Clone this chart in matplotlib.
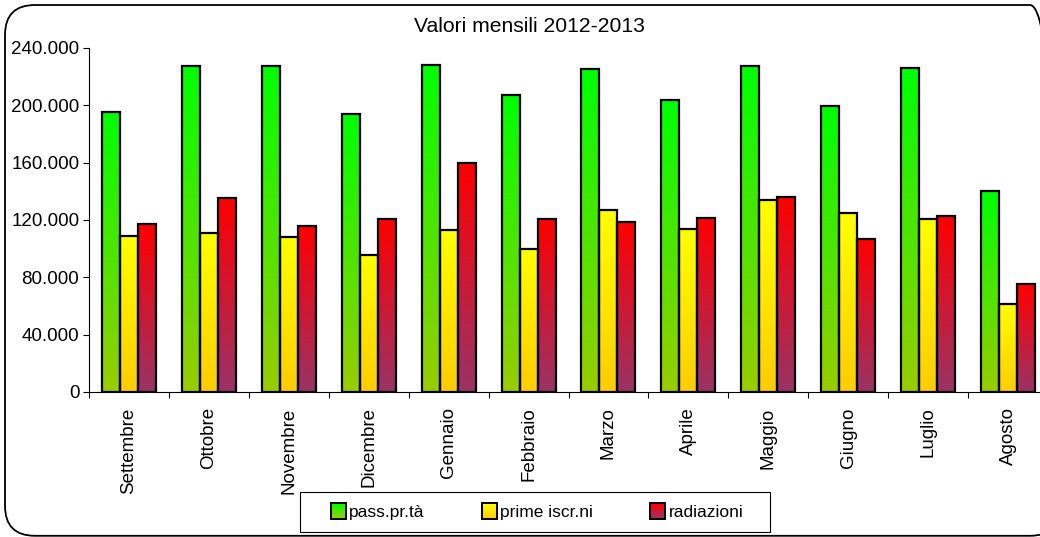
import numpy as np
import matplotlib
matplotlib.use("Agg")
import matplotlib.pyplot as plot
from matplotlib.patches import FancyBboxPatch, Rectangle
from matplotlib.ticker import FuncFormatter, FixedLocator
from matplotlib.legend_handler import HandlerBase

plot.rcParams['font.family'] = ['Liberation Sans', 'DejaVu Sans']

mesi = ['Settembre', 'Ottobre', 'Novembre', 'Dicembre', 'Gennaio', 'Febbraio',
        'Marzo', 'Aprile', 'Maggio', 'Giugno', 'Luglio', 'Agosto']
pass_prta = [195300, 227400, 227400, 194000, 228100, 207200,
             225300, 203700, 227400, 199500, 226000, 140200]
prime_iscr = [108800, 110900, 108100, 95600, 113000, 99800,
              127000, 113700, 134000, 124900, 120700, 61400]
radiazioni = [117200, 135300, 115800, 120700, 159800, 120700,
              118600, 121400, 136000, 106700, 122800, 75300]

serie = [
    ('pass.pr.tà', pass_prta, '#99CC00', '#00FF00'),
    ('prime iscr.ni', prime_iscr, '#FFCC00', '#FFFF00'),
    ('radiazioni', radiazioni, '#993366', '#FF0000'),
]


def gradiente(bas, haut, n=64):
    c0 = np.array(matplotlib.colors.to_rgb(bas))
    c1 = np.array(matplotlib.colors.to_rgb(haut))
    t = np.linspace(0, 1, n)[:, None]
    return (c0 + (c1 - c0) * t)[:, None, :]


class HandlerGradient(HandlerBase):
    def __init__(self, bas, haut):
        super().__init__()
        self.bas = bas
        self.haut = haut

    def create_artists(self, legend, orig_handle, xdescent, ydescent, width, height, fontsize, trans):
        n = 8
        g = gradiente(self.bas, self.haut, n)
        arts = []
        cote = height * 1.1
        y0 = -ydescent + (height - cote) / 2
        x0 = -xdescent
        for k in range(n):
            r = Rectangle((x0, y0 + k * cote / n), cote, cote / n + 0.01,
                          facecolor=g[k, 0], edgecolor='none', transform=trans)
            arts.append(r)
        arts.append(Rectangle((x0, y0), cote, cote, facecolor='none',
                              edgecolor='black', linewidth=1.4, transform=trans))
        return arts


fig = plot.figure(figsize=(10.4, 5.37), dpi=100)

# cadre arrondi (le bord droit sort de l'image)
cadre = FancyBboxPatch((0.05, 0.012), 10.55, 5.308, boxstyle="round,pad=0,rounding_size=0.3",
                       transform=fig.dpi_scale_trans, facecolor='none', edgecolor='black',
                       linewidth=1.3, zorder=-1)
fig.patches.append(cadre)

ax = fig.add_axes([89 / 1040, 1 - 392 / 537, (1048 - 89) / 1040, (392 - 48) / 537])
ax.set_facecolor('none')

x = np.arange(len(mesi))
largeur = 0.225
handles = []
handler_map = {}
for j, (nom, valeurs, bas, haut) in enumerate(serie):
    decal = (j - 1) * largeur
    img = gradiente(bas, haut)
    for xi, v in zip(x, valeurs):
        x0 = xi + decal - largeur / 2
        ax.imshow(img, extent=(x0, x0 + largeur, 0, v), aspect='auto', origin='lower',
                  interpolation='bilinear', zorder=2)
    barres = ax.bar(x + decal, valeurs, largeur, facecolor='none', edgecolor='black',
                    linewidth=1.6, zorder=3, label=nom)
    handles.append(barres)
    handler_map[barres] = HandlerGradient(bas, haut)

ax.set_xlim(-0.5, len(mesi) - 0.5)
ax.set_ylim(0, 240000)
ax.set_yticks(np.arange(0, 240001, 40000))
ax.yaxis.set_major_formatter(FuncFormatter(lambda v, p: f"{v:,.0f}".replace(",", ".")))
ax.tick_params(axis='y', direction='out', length=4, width=0.8, pad=3, labelsize=13.5)

ax.set_xticks(x)
ax.set_xticklabels(mesi, rotation=90, ha='center', va='top', fontsize=13.5)
ax.tick_params(axis='x', which='major', length=0, pad=11)
ax.xaxis.set_minor_locator(FixedLocator(np.arange(-0.5, len(mesi), 1.0)))
ax.tick_params(axis='x', which='minor', direction='out', length=4, width=0.8)

for cote in ['top', 'right']:
    ax.spines[cote].set_visible(False)
ax.spines['left'].set_linewidth(0.8)
ax.spines['bottom'].set_linewidth(0.8)

fig.text(529 / 1040, 1 - 27 / 537, 'Valori mensili 2012-2013', ha='center', va='center', fontsize=15.2)

leg = fig.legend(handles=handles, labels=[s[0] for s in serie], handler_map=handler_map,
                 loc='center', bbox_to_anchor=(537 / 1040, 1 - 512 / 537), ncol=3,
                 frameon=False, fontsize=12.5, handlelength=0.85, handleheight=0.85,
                 handletextpad=0.2, columnspacing=3.3)
fig.patches.append(Rectangle((300, 537 - 532), 470, 40, transform=None, facecolor='none',
                             edgecolor='black', linewidth=0.8))

plot.savefig('out.png', dpi=100)
